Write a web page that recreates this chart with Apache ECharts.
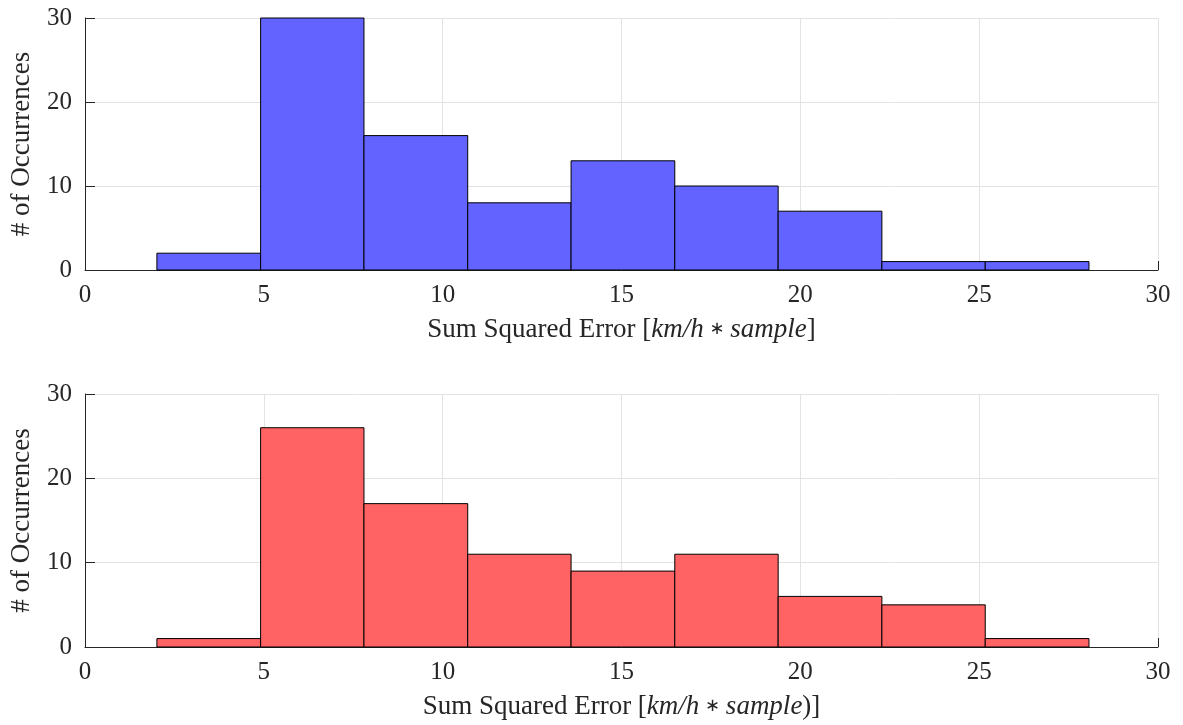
<!DOCTYPE html>
<html>
<head>
<meta charset="utf-8">
<script src="https://cdn.jsdelivr.net/npm/echarts@6/dist/echarts.min.js"></script>
<style>
html,body{margin:0;padding:0;background:#fff;}
#chart{width:1183px;height:725px;}
</style>
</head>
<body>
<div id="chart"></div>
<script>
// Data
var binEdges = [2.01, 4.91, 7.80, 10.70, 13.59, 16.49, 19.38, 22.28, 25.17, 28.07];
var countsTop = [2, 30, 16, 8, 13, 10, 7, 1, 1];
var countsBottom = [1, 26, 17, 11, 9, 11, 6, 5, 1];
var xTicks = [0, 5, 10, 15, 20, 25, 30];
var yTicks = [0, 10, 20, 30];
var xLabelTop = '{n|Sum Squared Error [}{i|km/h}{a| \u2217 }{i|sample}{n|]}';
var xLabelBottom = '{n|Sum Squared Error [}{i|km/h}{a| \u2217 }{i|sample}{n|)]}';
var yLabel = '# of Occurrences';

function toBins(counts) {
  var out = [];
  for (var i = 0; i < counts.length; i++) out.push([binEdges[i], binEdges[i + 1], counts[i]]);
  return out;
}

var FONT = 'Liberation Serif';
var axisColor = '#262626';
var textColor = '#262626';

function makeRender(fill) {
  return function (params, api) {
    var x0 = api.value(0), x1 = api.value(1), c = api.value(2);
    var p0 = api.coord([x0, c]);
    var p1 = api.coord([x1, 0]);
    return {
      type: 'rect',
      shape: { x: p0[0], y: p0[1], width: p1[0] - p0[0], height: p1[1] - p0[1] },
      style: { fill: fill, stroke: '#000', lineWidth: 1 }
    };
  };
}

function xAxis(idx, name) {
  return {
    gridIndex: idx, type: 'value', min: xTicks[0], max: xTicks[xTicks.length - 1], interval: 5,
    axisLine: { show: true, onZero: false, lineStyle: { color: axisColor, width: 1 } },
    axisTick: { show: true, inside: true, length: 9, lineStyle: { color: axisColor } },
    axisLabel: { color: textColor, fontFamily: FONT, fontSize: 25, margin: 13 },
    splitLine: { show: true, lineStyle: { color: '#e3e3e3', width: 1 } },
    name: name, nameLocation: 'middle', nameGap: 46,
    nameTextStyle: {
      rich: {
        n: { fontFamily: FONT, fontSize: 27, color: textColor },
        i: { fontFamily: FONT, fontSize: 27, fontStyle: 'italic', color: textColor },
        a: { fontFamily: 'DejaVu Sans', fontSize: 18, color: textColor }
      }
    }
  };
}
function yAxis(idx) {
  return {
    gridIndex: idx, type: 'value', min: yTicks[0], max: yTicks[yTicks.length - 1], interval: 10,
    axisLine: { show: true, onZero: false, lineStyle: { color: axisColor, width: 1 } },
    axisTick: { show: true, inside: true, length: 10, lineStyle: { color: axisColor } },
    axisLabel: { color: textColor, fontFamily: FONT, fontSize: 25, margin: 13 },
    splitLine: { show: true, lineStyle: { color: '#e3e3e3', width: 1 } },
    name: yLabel, nameLocation: 'middle', nameGap: 50, nameRotate: 90,
    nameTextStyle: { fontFamily: FONT, fontSize: 27, color: textColor }
  };
}

var chart = echarts.init(document.getElementById('chart'));
chart.setOption({
  backgroundColor: '#fff',
  animation: false,
  grid: [
    { left: 85, right: 25, top: 18, height: 252 },
    { left: 85, right: 25, top: 394, height: 253 }
  ],
  xAxis: [xAxis(0, xLabelTop), xAxis(1, xLabelBottom)],
  yAxis: [yAxis(0), yAxis(1)],
  series: [
    { type: 'custom', xAxisIndex: 0, yAxisIndex: 0, renderItem: makeRender('rgb(99,99,255)'),
      encode: { x: [0, 1], y: 2 }, data: toBins(countsTop) },
    { type: 'custom', xAxisIndex: 1, yAxisIndex: 1, renderItem: makeRender('rgb(255,99,99)'),
      encode: { x: [0, 1], y: 2 }, data: toBins(countsBottom) }
  ]
});
</script>
</body>
</html>
